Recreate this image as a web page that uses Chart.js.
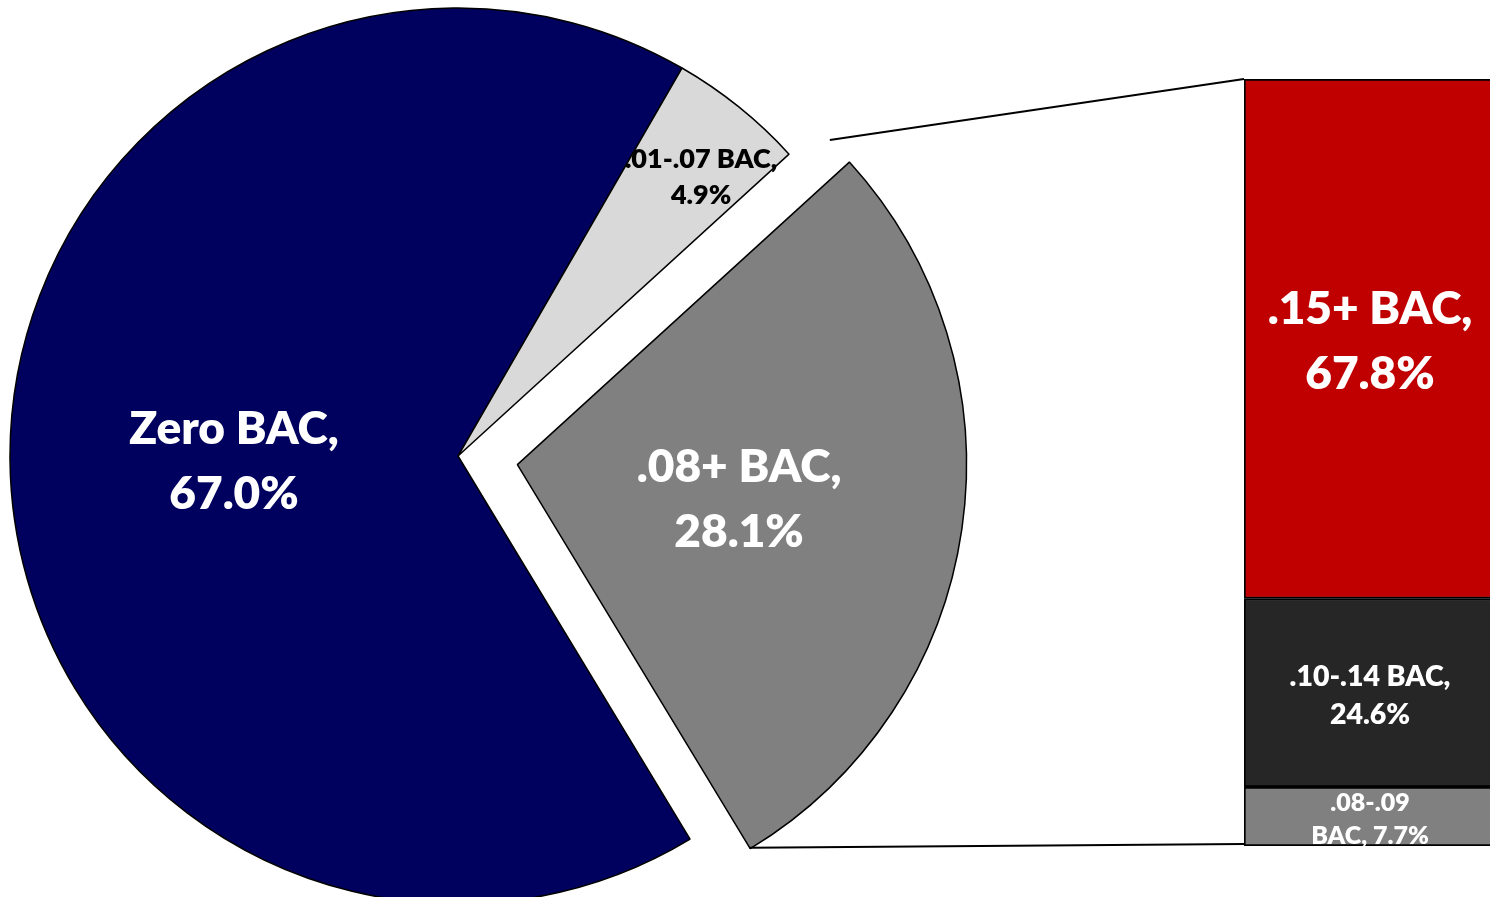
<!DOCTYPE html>
<html>
<head>
<meta charset="utf-8">
<script src="https://cdn.jsdelivr.net/npm/chart.js@4.4.1/dist/chart.umd.min.js"></script>
<style>
  html, body { margin: 0; padding: 0; background: #fff; overflow: hidden; }
  #wrap { position: relative; width: 1490px; height: 897px; overflow: hidden; }
  #barChart { position: absolute; left: 1244px; top: 79px; }
  #pieChart { position: absolute; left: 0; top: 0; pointer-events: none; }
</style>
</head>
<body>
<div id="wrap">
  <canvas id="barChart" width="252" height="767"></canvas>
  <canvas id="pieChart" width="1490" height="897"></canvas>
</div>
<script>
// pie: share of drivers by BAC
const pieLabels = ["Zero BAC", ".01-.07 BAC", ".08+ BAC"];
const pieValues = [67.0, 4.9, 28.1];
const pieColors = ["#00005E", "#D9D9D9", "#808080"];
const pieTextColors = ["#FFFFFF", "#000000", "#FFFFFF"];

// bar: breakdown of the .08+ slice (bottom to top)
const barLabels = [".08-.09 BAC", ".10-.14 BAC", ".15+ BAC"];
const barValues = [7.7, 24.6, 67.8];
const barColors = ["#808080", "#262626", "#C00000"];

const FONT = "Lato, 'Open Sans', sans-serif";
const WEIGHT = "800";

function labelLines(label, value, small) {
    const pct = value.toFixed(1) + "%";
    if (small) {
        const parts = label.split(" ");
        return [parts[0], parts.slice(1).join(" ") + ", " + pct];
    }
    return [label + ",", pct];
}

function drawLines(ctx, lines, x, y, size, lineH, color) {
    ctx.save();
    ctx.font = WEIGHT + " " + size + "px " + FONT;
    ctx.fillStyle = color;
    ctx.textAlign = "center";
    ctx.textBaseline = "middle";
    const y0 = y + 3 - (lines.length - 1) * lineH / 2;
    lines.forEach((t, i) => ctx.fillText(t, x, y0 + i * lineH));
    ctx.restore();
}

// ---- bar of pie ----
const barLabelPlugin = {
    id: "barLabels",
    afterDatasetsDraw(chart) {
        const ctx = chart.ctx;
        chart.data.datasets.forEach((ds, i) => {
            const el = chart.getDatasetMeta(i).data[0];
            const v = ds.data[0];
            const small = v < 10;
            const size = v > 50 ? 46 : (small ? 25 : 28.5);
            const lineH = v > 50 ? 65 : (small ? 33 : 38);
            const cx = el.x;
            const cy = (el.y + el.base) / 2;
            drawLines(ctx, labelLines(ds.label, v, small), cx, cy, size, lineH, "#FFFFFF");
        });
    }
};

const barChart = new Chart(document.getElementById("barChart"), {
    type: "bar",
    data: {
        labels: [""],
        datasets: barLabels.map((l, i) => ({
            label: l,
            data: [barValues[i]],
            backgroundColor: barColors[i],
            borderColor: "#000000",
            borderWidth: 2,
            borderSkipped: false,
            barPercentage: 1,
            categoryPercentage: 1
        }))
    },
    options: {
        responsive: false,
        animation: false,
        events: [],
        layout: { padding: 0 },
        plugins: { legend: { display: false }, tooltip: { enabled: false } },
        scales: {
            x: { stacked: true, display: false },
            y: { stacked: true, display: false, min: 0, max: 100.1 }
        }
    },
    plugins: [barLabelPlugin]
});

// ---- pie ----
const ROT = 148.8;
const RADIUS = 448;
const EXPLODE = 240; // chart.js moves the arc by offset/4

const pieLabelPlugin = {
    id: "pieLabels",
    afterDatasetsDraw(chart) {
        const ctx = chart.ctx;
        const meta = chart.getDatasetMeta(0);
        const ds = chart.data.datasets[0];
        meta.data.forEach((arc, i) => {
            let mid = (arc.startAngle + arc.endAngle) / 2;
            const off = (Array.isArray(ds.offset) ? ds.offset[i] : 0) / 4;
            const ox = arc.x + Math.cos(mid) * off;
            const oy = arc.y + Math.sin(mid) * off;
            const v = ds.data[i];
            const small = v < 10;
            if (small) mid += 2 * Math.PI / 180;
            const r = arc.outerRadius * (small ? 0.83 : 0.5);
            const x = ox + Math.cos(mid) * r;
            const y = oy + Math.sin(mid) * r;
            drawLines(ctx, labelLines(chart.data.labels[i], v, false), x, y,
                small ? 27 : 46, small ? 36 : 65, pieTextColors[i]);
        });

        // connector lines from the exploded slice to the bar
        const arc = meta.data[2];
        const mid = (arc.startAngle + arc.endAngle) / 2;
        const off = ds.offset[2] / 4;
        const ex = Math.cos(mid) * off, ey = Math.sin(mid) * off;
        const bc = barChart.canvas;
        const topEl = barChart.getDatasetMeta(2).data[0];
        const botEl = barChart.getDatasetMeta(0).data[0];
        const barLeft = bc.offsetLeft + topEl.x - topEl.width / 2;
        const barTop = bc.offsetTop + topEl.y;
        const barBot = bc.offsetTop + botEl.base - 2;

        const a1 = arc.startAngle + 2 * Math.PI / 180;
        const r1 = arc.outerRadius + 40;
        const p1 = [arc.x + Math.cos(a1) * r1, arc.y + Math.sin(a1) * r1];
        const p2 = [arc.x + ex + Math.cos(arc.endAngle) * arc.outerRadius,
                    arc.y + ey + Math.sin(arc.endAngle) * arc.outerRadius];

        ctx.save();
        ctx.strokeStyle = "#000000";
        ctx.lineWidth = 2;
        ctx.beginPath();
        ctx.moveTo(p1[0], p1[1]);
        ctx.lineTo(barLeft, barTop);
        ctx.moveTo(p2[0], p2[1]);
        ctx.lineTo(barLeft, barBot);
        ctx.stroke();
        ctx.restore();
    }
};

new Chart(document.getElementById("pieChart"), {
    type: "pie",
    data: {
        labels: pieLabels,
        datasets: [{
            data: pieValues,
            backgroundColor: pieColors,
            borderColor: "#000000",
            borderWidth: 1.5,
            offset: [0, 0, EXPLODE],
            clip: false
        }]
    },
    options: {
        responsive: false,
        animation: false,
        events: [],
        rotation: ROT,
        radius: RADIUS,
        layout: { padding: { left: 0, right: 574, top: 15, bottom: 0 } },
        plugins: { legend: { display: false }, tooltip: { enabled: false } }
    },
    plugins: [pieLabelPlugin]
});
</script>
</body>
</html>
